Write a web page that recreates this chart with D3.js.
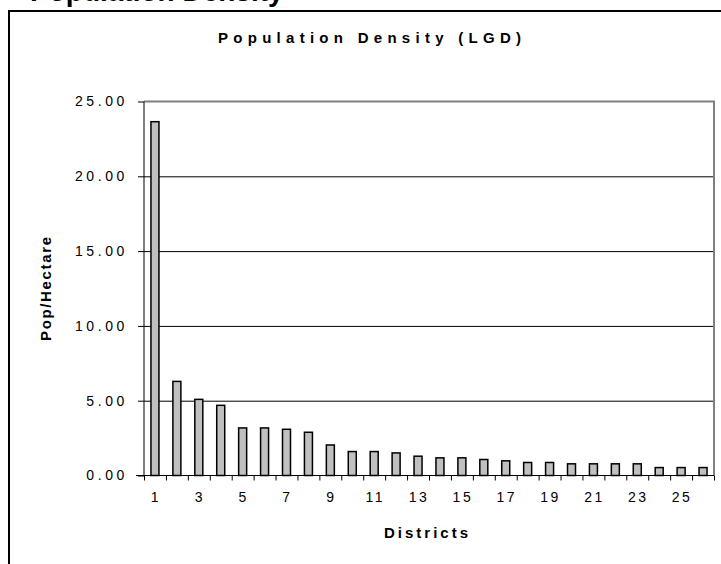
<!DOCTYPE html>
<html lang="en">
<head>
<meta charset="UTF-8">
<title>Population Density (LGD)</title>
<script src="https://cdn.jsdelivr.net/npm/d3@7"></script>
<style>
  html, body { margin: 0; padding: 0; background: #fff; }
  svg text { font-family: Arial, "Liberation Sans", sans-serif; fill: #000; }
</style>
</head>
<body>
<div id="container"></div>
<script>
// chart values
const districts = ['1','2','3','4','5','6','7','8','9','10','11','12','13',
                   '14','15','16','17','18','19','20','21','22','23','24','25','26'];
const density = [23.65, 6.29, 5.09, 4.69, 3.18, 3.18, 3.09, 2.89, 2.04, 1.60, 1.60, 1.51, 1.29,
                 1.18, 1.18, 1.07, 0.98, 0.87, 0.87, 0.78, 0.78, 0.78, 0.78, 0.53, 0.53, 0.53];
const yTicks = [0, 5, 10, 15, 20, 25];
const xLabels = ['1','3','5','7','9','11','13','15','17','19','21','23','25'];

const width = 721, height = 564;
const plotLeft = 144, plotRight = 714, plotTop = 101.5, plotBottom = 475.5;

const svg = d3.select('#container').append('svg')
  .attr('width', width)
  .attr('height', height);

// heading of the page above, cut off by the crop
svg.append('text')
  .attr('x', 30).attr('y', 1)
  .style('font-size', '28px').style('font-weight', 'bold')
  .text('Population Density');

// outer chart frame
svg.append('rect')
  .attr('x', 9).attr('y', 11)
  .attr('width', 722).attr('height', 600)
  .attr('fill', 'none').attr('stroke', '#000').attr('stroke-width', 2);

const x = d3.scaleBand()
  .domain(districts)
  .range([plotLeft, plotRight])
  .paddingInner(0.635)
  .paddingOuter(0.3175);

const xEdge = d3.scaleLinear()
  .domain([0, districts.length])
  .range([plotLeft, plotRight]);

const y = d3.scaleLinear()
  .domain([0, 25])
  .range([plotBottom, plotTop]);

// gridlines
svg.append('g')
  .attr('transform', `translate(${plotLeft},0)`)
  .call(d3.axisLeft(y).tickValues(yTicks.slice(1, -1)).tickSize(-(plotRight - plotLeft)).tickFormat(''))
  .call(g => g.select('.domain').remove())
  .call(g => g.selectAll('line').attr('stroke', '#000'));

// plot area border, top and right
svg.append('path')
  .attr('d', `M${plotLeft},${plotTop}H${plotRight}V${plotBottom}`)
  .attr('fill', 'none').attr('stroke', '#808080').attr('stroke-width', 2);

// bars
svg.append('g')
  .selectAll('rect')
  .data(density)
  .join('rect')
  .attr('x', (d, i) => x(districts[i]))
  .attr('y', d => y(d))
  .attr('width', x.bandwidth())
  .attr('height', d => y(0) - y(d))
  .attr('fill', '#c0c0c0')
  .attr('stroke', '#000')
  .attr('stroke-width', 1.5);

// y axis
svg.append('g')
  .attr('transform', `translate(${plotLeft},0)`)
  .call(d3.axisLeft(y).tickValues(yTicks).tickFormat(d3.format('.2f')).tickSize(6).tickPadding(14))
  .call(g => g.select('.domain').attr('d', `M0,${plotBottom}V${plotTop}`))
  .call(g => g.selectAll('text').style('font-size', '14px').style('letter-spacing', '3.6px').attr('dx', 4));

// x axis ticks between categories
svg.append('g')
  .attr('transform', `translate(0,${plotBottom})`)
  .call(d3.axisBottom(xEdge).tickValues(d3.range(0, districts.length + 1)).tickFormat('').tickSize(5))
  .call(g => g.select('.domain').attr('d', `M${plotLeft - 8},0H${plotRight}`));

// x labels on odd districts
svg.append('g')
  .attr('transform', `translate(0,${plotBottom})`)
  .call(d3.axisBottom(x).tickValues(xLabels).tickSize(0).tickPadding(17))
  .call(g => g.select('.domain').remove())
  .call(g => g.selectAll('text').style('font-size', '14px').style('letter-spacing', '2.5px').attr('dx', 1));

// titles
svg.append('text')
  .attr('x', 218).attr('y', 43)
  .attr('textLength', 303).attr('lengthAdjust', 'spacing')
  .style('font-size', '15px').style('font-weight', 'bold')
  .text('Population Density (LGD)');

svg.append('text')
  .attr('x', 384).attr('y', 538)
  .attr('textLength', 84).attr('lengthAdjust', 'spacing')
  .style('font-size', '15px').style('font-weight', 'bold')
  .text('Districts');

svg.append('text')
  .attr('transform', 'translate(51,341) rotate(-90)')
  .attr('textLength', 104).attr('lengthAdjust', 'spacing')
  .style('font-size', '15px').style('font-weight', 'bold')
  .text('Pop/Hectare');
</script>
</body>
</html>
